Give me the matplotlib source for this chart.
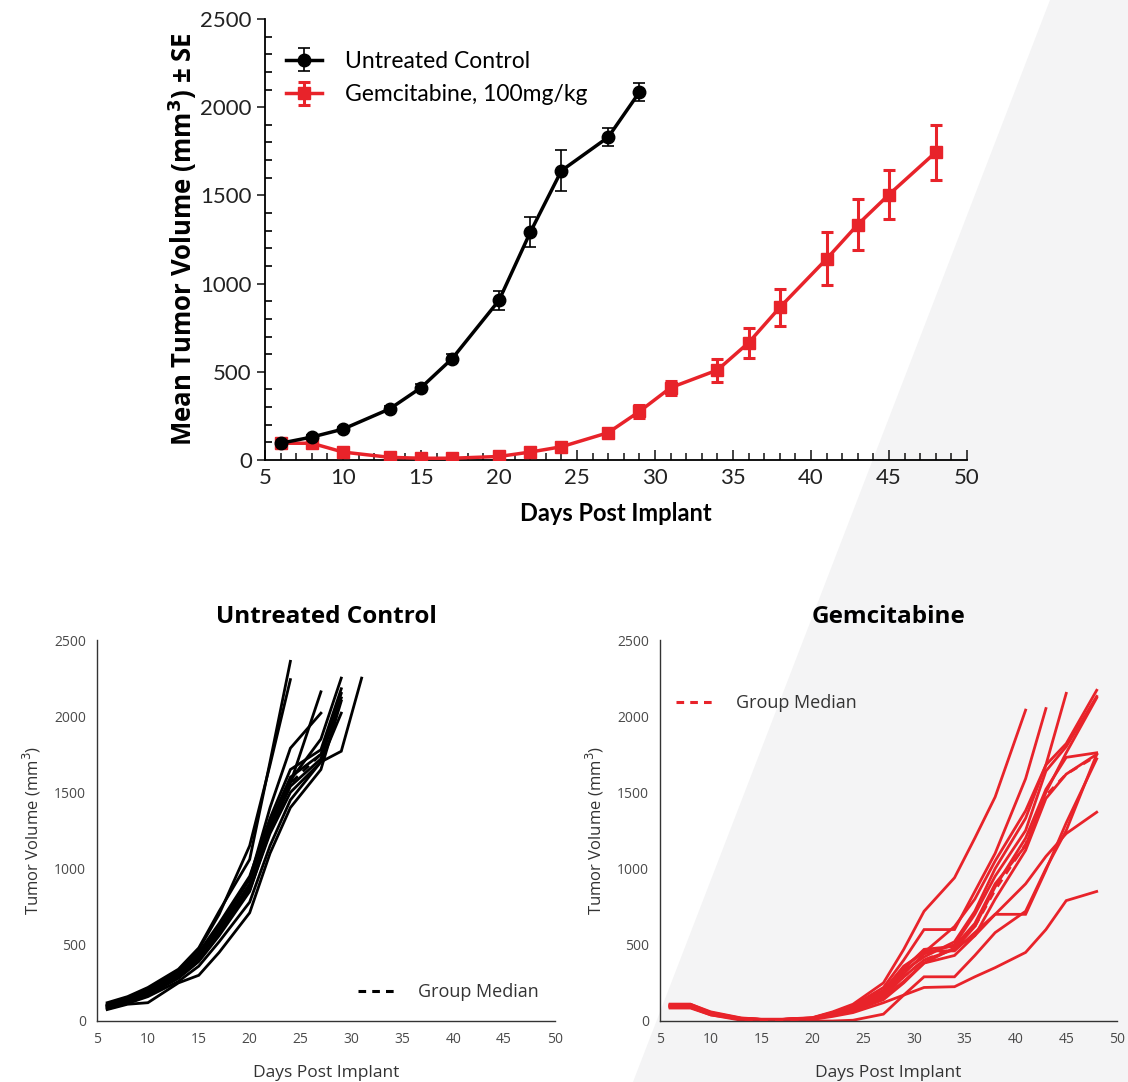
import numpy as np
import matplotlib
matplotlib.use("Agg")
import matplotlib.pyplot as plt
from matplotlib.patches import Polygon
from matplotlib.lines import Line2D

# ---------------- data ----------------
ctrl_days = [6, 8, 10, 13, 15, 17, 20, 22, 24, 27, 29]
ctrl_mean = [95, 130, 175, 290, 410, 575, 905, 1290, 1640, 1830, 2085]
ctrl_se = [8, 10, 12, 15, 20, 25, 55, 85, 115, 50, 50]

gem_days = [6, 8, 10, 13, 15, 17, 20, 22, 24, 27, 29, 31, 34, 36, 38, 41, 43, 45, 48]
gem_mean = [95, 95, 45, 15, 10, 10, 20, 45, 75, 155, 275, 410, 510, 665, 865, 1140, 1335, 1505, 1745]
gem_se = [10, 10, 8, 5, 4, 4, 6, 10, 15, 20, 35, 40, 65, 85, 105, 150, 145, 140, 155]

# individual animals, untreated control (truncated at end of life)
ctrl_ind_days = [6, 8, 10, 13, 15, 17, 20, 22, 24, 27, 29, 31]
ctrl_ind = [
    [120, 160, 220, 340, 480, 720, 1060, 1700, 2360],
    [105, 150, 210, 330, 470, 700, 1150, 1680, 2240],
    [100, 140, 195, 310, 440, 620, 930, 1400, 1790, 2020],
    [95, 135, 190, 300, 420, 600, 900, 1300, 1560, 2160],
    [90, 130, 180, 290, 410, 590, 880, 1280, 1580, 1850, 2250],
    [95, 135, 185, 300, 420, 590, 890, 1300, 1600, 1750, 2150],
    [85, 125, 170, 280, 390, 560, 850, 1250, 1540, 1720, 2120],
    [100, 140, 190, 300, 420, 580, 860, 1230, 1500, 1700, 2020],
    [80, 115, 160, 260, 360, 520, 780, 1150, 1450, 1700, 1770, 2250],
    [75, 110, 120, 250, 300, 450, 710, 1100, 1400, 1650, 2100],
    [110, 150, 200, 320, 450, 640, 950, 1330, 1650, 1780, 2180],
]
ctrl_median = [95, 135, 185, 300, 420, 590, 890, 1290, 1560, 1750, 2150]

gem_ind_days = gem_days
gem_ind = [
    [110, 110, 60, 20, 12, 12, 22, 60, 110, 250, 470, 720, 940, 1200, 1470, 2040],
    [100, 100, 55, 18, 10, 10, 20, 55, 100, 220, 400, 600, 600, 850, 1100, 1590, 2050],
    [95, 95, 50, 15, 10, 10, 18, 50, 90, 200, 360, 450, 620, 800, 1050, 1380, 1680, 2150],
    [90, 90, 45, 15, 10, 10, 16, 45, 85, 180, 330, 420, 520, 720, 1000, 1330, 1680, 1820, 2170],
    [105, 105, 50, 15, 10, 10, 18, 50, 85, 175, 310, 440, 500, 700, 950, 1250, 1640, 1800, 2130],
    [100, 100, 45, 12, 8, 8, 15, 40, 75, 160, 290, 400, 470, 620, 880, 1200, 1520, 1730, 1760],
    [85, 85, 40, 12, 8, 8, 15, 40, 70, 150, 260, 380, 430, 560, 800, 1120, 1460, 1620, 1750],
    [100, 100, 45, 12, 8, 8, 14, 38, 65, 140, 250, 380, 480, 560, 700, 900, 1080, 1230, 1370],
    [100, 100, 45, 10, 5, 5, 10, 30, 55, 120, 170, 220, 225, 290, 350, 450, 600, 790, 850],
    [90, 90, 40, 5, 0, 0, 0, 0, 5, 45, 170, 290, 290, 430, 580, 720, 1000, 1250, 1750],
    [110, 110, 55, 15, 10, 10, 20, 55, 100, 200, 350, 460, 460, 580, 700, 700, 990, 1300, 1720],
    [95, 95, 50, 15, 10, 10, 18, 48, 90, 190, 340, 470, 490, 640, 900, 1150, 1500, 1760, 2120],
]
gem_median = [100, 100, 45, 12, 8, 8, 15, 42, 75, 160, 290, 400, 480, 620, 860, 1160, 1480, 1620, 1740]

RED = "#e8232a"

# ---------------- figure ----------------
W, H = 1128, 1082
fig = plt.figure(figsize=(W / 100, H / 100), dpi=100)
fig.patch.set_facecolor("white")

# background axes with light grey diagonal panel
bg = fig.add_axes([0, 0, 1, 1], zorder=-10)
bg.set_xlim(0, 1)
bg.set_ylim(0, 1)
bg.axis("off")
bg.add_patch(Polygon([(1050 / W, 1.0), (1.0, 1.0), (1.0, 0.0), (633 / W, 0.0)],
                     closed=True, facecolor="#f4f4f5", edgecolor="none"))

cond = ["Lato", "DejaVu Sans"]
sans = ["Open Sans", "DejaVu Sans"]

# ---------------- top chart ----------------
ax = fig.add_axes([265 / W, 1 - 460 / H, 702 / W, 441 / H])
ax.patch.set_alpha(0)
ax.errorbar(ctrl_days, ctrl_mean, yerr=ctrl_se, color="black", lw=2.5,
            marker="o", ms=9, capsize=4, elinewidth=1.2, capthick=1.2,
            label="Untreated Control", zorder=4)
ax.errorbar(gem_days, gem_mean, yerr=gem_se, color=RED, lw=2.5,
            marker="s", ms=9, capsize=4, elinewidth=2.2, capthick=2.2,
            label="Gemcitabine, 100mg/kg", zorder=3)
ax.set_xlim(5, 50)
ax.set_ylim(0, 2500)
ax.set_xticks(range(5, 51, 5))
ax.set_xticks(range(5, 51, 1), minor=True)
ax.set_yticks(range(0, 2501, 500))
ax.set_yticks(range(0, 2501, 100), minor=True)
ax.tick_params(axis="x", which="both", direction="in", length=5, width=1.2,
               labelsize=16, colors="#222222", pad=6)
ax.tick_params(axis="x", which="major", length=7)
ax.tick_params(axis="y", which="major", direction="out", length=6, width=1.2,
               labelsize=16, colors="#222222")
ax.tick_params(axis="y", which="minor", direction="in", length=5, width=1.2)
for lab in ax.get_xticklabels() + ax.get_yticklabels():
    lab.set_family(cond)
for s in ["top", "right"]:
    ax.spines[s].set_visible(False)
for s in ["left", "bottom"]:
    ax.spines[s].set_linewidth(1.3)
ax.set_xlabel("Days Post Implant", fontsize=17, fontweight="bold",
              family=cond, labelpad=10)
ax.set_ylabel("Mean Tumor Volume (mm$^\\mathbf{3}$) ± SE", fontsize=18.5,
              fontweight="bold", family=sans, labelpad=1)
ax.legend(loc="upper left", bbox_to_anchor=(0.0, 0.975), frameon=False,
          handlelength=1.6, handletextpad=1.0, labelspacing=0.55,
          prop={"family": cond, "size": 16.5})

# ---------------- bottom charts ----------------
def small_panel(rect, days, ind, med, color, title, legend_loc):
    a = fig.add_axes(rect)
    a.patch.set_alpha(0)
    for tr in ind:
        a.plot(days[:len(tr)], tr, color=color, lw=2.0, solid_joinstyle="miter")
    a.plot(days[:len(med)], med, color=color, lw=2.0, ls=(0, (3, 2.5)),
           zorder=5)
    a.set_xlim(5, 50)
    a.set_ylim(0, 2500)
    a.set_xticks(range(5, 51, 5))
    a.set_yticks(range(0, 2501, 500))
    a.tick_params(length=0, labelsize=10, colors="#4a4a4a", pad=8)
    for lab in a.get_xticklabels() + a.get_yticklabels():
        lab.set_family(sans)
    for s in ["top", "right"]:
        a.spines[s].set_visible(False)
    for s in ["left", "bottom"]:
        a.spines[s].set_color("#333333")
        a.spines[s].set_linewidth(1.0)
    a.set_xlabel("Days Post Implant", fontsize=12.5, family=sans,
                 color="#333333", labelpad=13)
    a.set_ylabel("Tumor Volume (mm$^3$)", fontsize=12, family=sans,
                 color="#333333", labelpad=8)
    a.set_title(title, fontsize=17.5, fontweight="bold", family=sans, pad=12)
    h = Line2D([], [], color=color, lw=2.2, ls=(0, (2.5, 2)))
    a.legend([h], ["Group Median"], frameon=False, loc=legend_loc[0],
             bbox_to_anchor=legend_loc[1], handlelength=2.2,
             handletextpad=1.1, prop={"family": sans, "size": 13},
             labelcolor="#333333")
    return a

small_panel([97 / W, 1 - 1021 / H, 458 / W, 381 / H], ctrl_ind_days, ctrl_ind,
            ctrl_median, "black", "Untreated Control",
            ("lower right", (1.0, 0.01)))
small_panel([660 / W, 1 - 1021 / H, 457 / W, 381 / H], gem_ind_days, gem_ind,
            gem_median, RED, "Gemcitabine",
            ("upper left", (0.0, 0.9)))

fig.savefig("out.png", dpi=100, facecolor=fig.get_facecolor())
